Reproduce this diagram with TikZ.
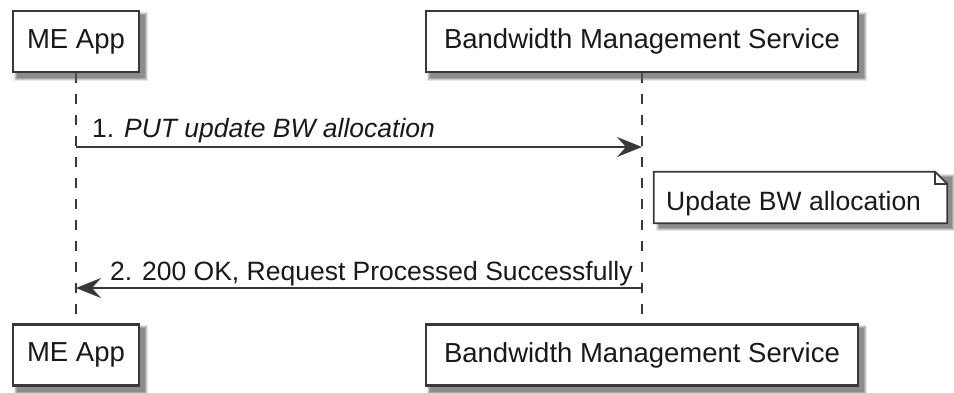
\documentclass[tikz,border=0pt]{standalone}
\usepackage{fontspec}
\setmainfont{Liberation Sans}
\usetikzlibrary{arrows.meta}
\definecolor{linec}{HTML}{383838}
\definecolor{shadowc}{HTML}{5A5A5A}
\pgfdeclarelayer{bg}
\pgfsetlayers{bg,main}
\tikzset{
  txt/.style={font=\fontsize{26.5}{30}\selectfont, text=black!90},
  actor/.style={txt, font=\fontsize{27.5}{30}\selectfont, draw=linec, fill=white,
    line width=2.2pt, minimum height=61pt, inner sep=0pt},
  lane/.style={draw=linec, line width=1.3pt, dash pattern=on 10pt off 11pt},
  msg/.style={draw=linec, line width=1.8pt,
    -{Stealth[length=25pt, width=20pt, inset=9pt, fill=linec]}},
  lbl/.style={txt, inner sep=0pt, anchor=base west},
  notebox/.style={draw=linec, fill=white, line width=1.8pt, line join=miter},
}
% soft drop shadow behind a rectangular node
\newcommand{\softshade}[1]{%
  \fill[shadowc, opacity=0.15] ([shift={(2,2)}]#1.north west) rectangle ([shift={(8,8)}]#1.south east);
  \fill[shadowc, opacity=0.22] ([shift={(3,3)}]#1.north west) rectangle ([shift={(7,7)}]#1.south east);
  \fill[shadowc, opacity=0.3] ([shift={(4,4)}]#1.north west) rectangle ([shift={(6,6)}]#1.south east);
  \fill[shadowc, opacity=0.35] ([shift={(5,5)}]#1.north west) rectangle ([shift={(5,5)}]#1.south east);
}
\begin{document}
\begin{tikzpicture}[x=1pt, y=-1pt]
  \useasboundingbox (0,0) rectangle (954,392);

  % participants, head and foot
  \node[actor, minimum width=126pt] (meTop) at (76,41.5) {ME App};
  \node[actor, minimum width=432pt] (bwTop) at (642,41.5) {Bandwidth Management Service};
  \node[actor, minimum width=126pt] (meBot) at (76,355) {ME App};
  \node[actor, minimum width=432pt] (bwBot) at (642,355) {Bandwidth Management Service};

  % lifelines
  \begin{pgfonlayer}{bg}
    \draw[lane] (meTop.south) -- (meBot.north);
    \draw[lane] (bwTop.south) -- (bwBot.north);
  \end{pgfonlayer}

  % message 1
  \coordinate (me1) at (76,147);
  \coordinate (bw1) at (642,147);
  \draw[msg] (me1) -- (bw1);
  \node[lbl] (m1) at (92,137) {1. \textit{PUT update BW allocation}};

  % note on the service lifeline
  \node[txt, minimum width=293pt, minimum height=51pt, inner sep=0pt] (note) at (800.5,197.5) {};
  \draw[notebox] (note.north west) -- ([xshift=-12pt]note.north east)
    -- ([shift={(0,12)}]note.north east) -- (note.south east)
    -- (note.south west) -- cycle;
  \draw[draw=linec, line width=1.5pt] ([xshift=-12pt]note.north east)
    -- ([shift={(-12,12)}]note.north east) -- ([shift={(0,12)}]note.north east);
  \node[lbl] (ntext) at (666,210) {Update BW allocation};

  % message 2
  \coordinate (bw2) at (642,288);
  \coordinate (me2) at (76,288);
  \draw[msg] (bw2) -- (me2);
  \node[lbl] (m2) at (110,280) {2. 200 OK, Request Processed Successfully};

  % shadows
  \begin{pgfonlayer}{bg}
    \softshade{meTop}
    \softshade{bwTop}
    \softshade{meBot}
    \softshade{bwBot}
    \softshade{note}
  \end{pgfonlayer}
\end{tikzpicture}
\end{document}
